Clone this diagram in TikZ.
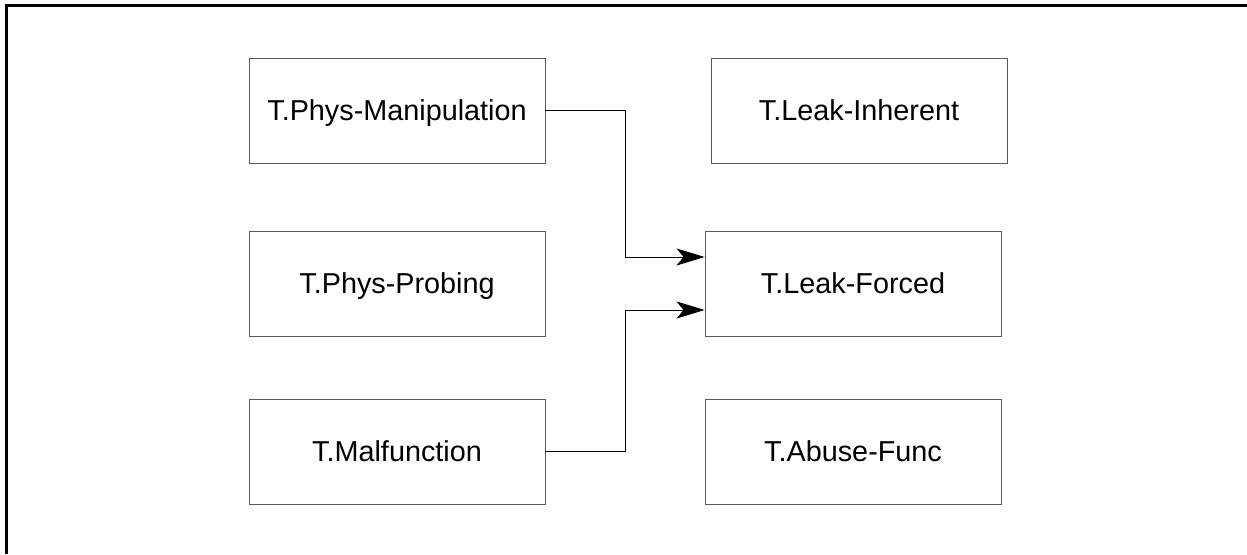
\documentclass[tikz,border=0pt]{standalone}
\usepackage{fontspec}
\setmainfont{Liberation Sans}
\usetikzlibrary{arrows.meta}

\tikzset{
	threat/.style={draw=black!65, line width=.9pt, minimum width=296pt, minimum height=105pt,
		text depth=0pt, font=\fontsize{28.8}{34}\selectfont},
	flow/.style={draw=black, line width=.9pt, -{Stealth[length=28pt,width=17pt,inset=7pt]}}
}

\begin{document}
\begin{tikzpicture}[x=1pt,y=-1pt]

	\useasboundingbox (0,0) rectangle (1247,554);
	
	% frame
	\draw[line width=2.6pt] (6.5,554) -- (6.5,5.5) -- (1247,5.5);
	
	% threats
	\node[threat] (manip) at (397,110.5) {T.Phys-Manipulation};
	\node[threat] (probe) at (397,283.5) {T.Phys-Probing};
	\node[threat] (malf) at (397,451.5) {T.Malfunction};
	
	\node[threat] (inherent) at (859,110.5) {T.Leak-Inherent};
	\node[threat] (forced) at (853,283.5) {T.Leak-Forced};
	\node[threat] (abuse) at (853,451.5) {T.Abuse-Func};
	
	% arrows
	\draw[flow] (manip.east) -- ++(80,0) |- ([yshift=26.5pt]forced.west);
	\draw[flow] (malf.east) -- ++(80,0) |- ([yshift=-26.5pt]forced.west);
	
\end{tikzpicture}
\end{document}
